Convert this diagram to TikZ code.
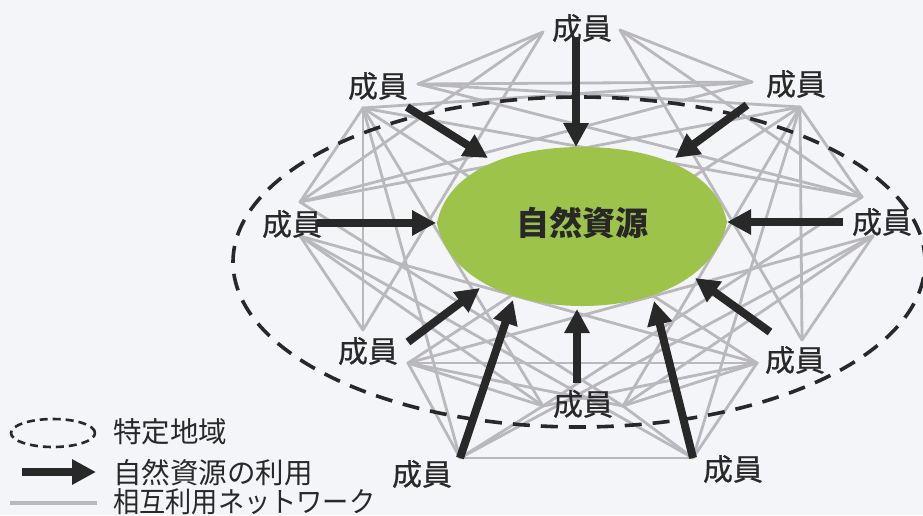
\documentclass[tikz,border=0pt]{standalone}
\usepackage{fontspec}
\newfontfamily\jp{Noto Sans CJK JP}
\newfontfamily\jpm[FakeBold=0.6]{Noto Sans CJK JP}
\usetikzlibrary{arrows.meta,shapes.geometric}
\definecolor{bg}{RGB}{244,245,249}
\definecolor{netgray}{RGB}{184,184,189}
\definecolor{ink}{RGB}{40,40,40}
\definecolor{resgreen}{RGB}{157,195,74}
\tikzset{
  net/.style={draw=netgray, line width=2.8pt, line cap=round},
  region/.style={draw=ink, line width=3.6pt, dash pattern=on 17pt off 11pt},
  useres/.style={draw=ink, line width=8pt, -{Triangle[length=24pt,width=24pt]}},
  mem/.style={font=\jpm\fontsize{30}{30}\selectfont, text=ink, inner sep=0pt},
  legtext/.style={font=\jp\fontsize{28.5}{28.5}\selectfont, text=ink, inner sep=0pt, anchor=west},
}
\begin{document}
\begin{tikzpicture}[x=1pt,y=-1pt]
\useasboundingbox (0,0) rectangle (923,515);
\fill[bg] (0,0) rectangle (923,515);
% network vertices
\coordinate (A) at (543,32);   \coordinate (A') at (620,30);
\coordinate (B) at (418,84);   \coordinate (B') at (752,82);
\coordinate (C) at (363,108);  \coordinate (C') at (800,107);
\coordinate (D) at (300,202);  \coordinate (D') at (862,197);
\coordinate (E) at (300,236);  \coordinate (E') at (873,236);
\coordinate (F) at (363,330);  \coordinate (F') at (802,340);
\coordinate (G) at (408,363);  \coordinate (G') at (757,363);
\coordinate (H) at (543,406);  \coordinate (H') at (623,406);
\coordinate (I) at (460,458);  \coordinate (I') at (693,458);
% network
\foreach \p/\q in {A/B, A/D, A/F, B/B', B/C', B/D', C/D, C/F, C/I, C/H, C/G', D/C',
  E/F, E/H, E/G', E/I', G/H, G/I, G/G', H/I, H/D', H/G', I/I',
  A'/B', A'/D', A'/F', B'/C, B'/D, C'/D', C'/F', C'/I', C'/H', C'/G, D'/C,
  E'/F', E'/H', E'/G, E'/I, G'/H', G'/I', H'/I', H'/D, H'/G}
  \draw[net] (\p) -- (\q);
% region
\draw[region] (579,262) ellipse [x radius=346pt, y radius=165pt];
% resource
\fill[resgreen] (437,223) .. controls (447,172) and (508,147) .. (582,147)
  .. controls (656,147) and (717,172) .. (727,222)
  .. controls (717,275) and (656,306) .. (582,306)
  .. controls (508,306) and (447,275) .. (437,223) -- cycle;
\node[font=\jp\bfseries\fontsize{33}{33}\selectfont, text=ink, inner sep=0pt] (res) at (582,223) {自然資源};
% members
\node[mem] (m1) at (582,28) {成員};
\node[mem] (m2) at (378,86) {成員};
\node[mem] (m3) at (796,84) {成員};
\node[mem] (m4) at (292,224) {成員};
\node[mem] (m5) at (882,222) {成員};
\node[mem] (m6) at (368,351) {成員};
\node[mem] (m7) at (795,360) {成員};
\node[mem] (m8) at (583,404) {成員};
\node[mem] (m9) at (422,474) {成員};
\node[mem] (m10) at (733,469) {成員};
% arrow ends
\coordinate (s1) at (576,37);  \coordinate (t1) at (576,147);
\coordinate (s2) at (407,107); \coordinate (t2) at (488,158);
\coordinate (s3) at (747,105); \coordinate (t3) at (675,158);
\coordinate (s4) at (317,223); \coordinate (t4) at (436,223);
\coordinate (s5) at (843,222); \coordinate (t5) at (727,222);
\coordinate (s6) at (408,342); \coordinate (t6) at (480,288);
\coordinate (s7) at (770,332); \coordinate (t7) at (695,278);
\coordinate (s8) at (577,383); \coordinate (t8) at (577,309);
\coordinate (s9) at (460,458); \coordinate (t9) at (513,300);
\coordinate (s10) at (693,458); \coordinate (t10) at (654,301);
\foreach \k in {1,...,10} \draw[useres] (s\k) -- (t\k);
% legend
\draw[draw=ink, line width=2.6pt, dash pattern=on 8pt off 5pt] (53,433) ellipse [x radius=42pt, y radius=14pt];
\coordinate (la1) at (22,472); \coordinate (la2) at (96,472);
\draw[useres] (la1) -- (la2);
\coordinate (ln1) at (10,503); \coordinate (ln2) at (97,503);
\draw[net, line width=4pt, line cap=butt] (ln1) -- (ln2);
\node[legtext] (l1) at (113,432) {特定地域};
\node[legtext] (l2) at (113,472.5) {自然資源の利用};
\node[legtext] (l3) at (113,501.5) {\scalebox{0.92}[1]{相互利用ネットワーク}};
\end{tikzpicture}
\end{document}
